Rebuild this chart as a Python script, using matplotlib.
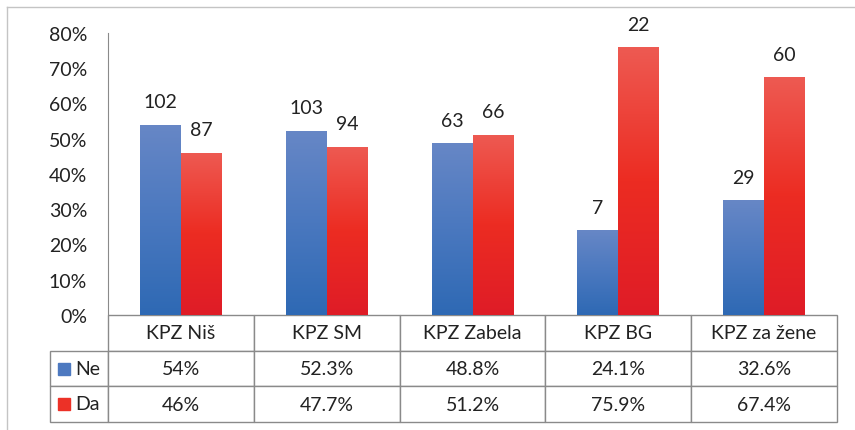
import numpy as np
import matplotlib.pyplot as plt
from matplotlib.colors import LinearSegmentedColormap
from matplotlib.lines import Line2D

plt.rcParams['font.family'] = ['Lato', 'DejaVu Sans']

categories = ['KPZ Niš', 'KPZ SM', 'KPZ Zabela', 'KPZ BG', 'KPZ za žene']
series_names = ['Ne', 'Da']
pct_ne = [54.0, 52.3, 48.8, 24.1, 32.6]
pct_da = [46.0, 47.7, 51.2, 75.9, 67.4]
cnt_ne = [102, 103, 63, 7, 29]
cnt_da = [87, 94, 66, 22, 60]
table_ne = ['54%', '52.3%', '48.8%', '24.1%', '32.6%']
table_da = ['46%', '47.7%', '51.2%', '75.9%', '67.4%']
yticks = [0, 10, 20, 30, 40, 50, 60, 70, 80]

blue_cmap = LinearSegmentedColormap.from_list('b', ['#2e69b4', '#4a78bf', '#6787c6'])
red_cmap = LinearSegmentedColormap.from_list('r', ['#df1c27', '#ec2c22', '#ee5a52'])
edge = '#8a8a8a'
fs = 14

fig = plt.figure(figsize=(8.55, 4.31), dpi=100)
ax = fig.add_axes([108 / 855, 1 - 316 / 431, 729 / 855, 282 / 431])

x = np.arange(len(categories))
w = 0.28
grad = np.linspace(0, 1, 256).reshape(-1, 1)


def gradient_bars(xpos, vals, cmap, counts):
    bars = ax.bar(xpos, vals, w, color=cmap(0.5), linewidth=0, zorder=2)
    for b, c in zip(bars, counts):
        x0, h = b.get_x(), b.get_height()
        im = ax.imshow(grad, extent=[x0, x0 + b.get_width(), 0, h], origin='lower',
                       aspect='auto', cmap=cmap, zorder=3)
        im.set_clip_path(b)
        ax.annotate(str(c), (x0 + b.get_width() / 2, h), xytext=(0, 12.5),
                    textcoords='offset points', ha='center', va='baseline',
                    fontsize=fs, color='#222222')


gradient_bars(x - w / 2, pct_ne, blue_cmap, cnt_ne)
gradient_bars(x + w / 2, pct_da, red_cmap, cnt_da)

ax.set_xlim(-0.5, len(categories) - 0.5)
ax.set_ylim(0, 80)
ax.set_yticks(yticks)
ax.set_yticklabels([f'{t}%' for t in yticks], fontsize=fs, color='#222222')
ax.tick_params(axis='y', length=0, pad=15)
ax.set_xticks([])
for s in ['top', 'right', 'bottom']:
    ax.spines[s].set_visible(False)
ax.spines['left'].set_color(edge)

# data table under the chart
first_w = 58 / 729
cell_text = [[''] + categories, [''] + table_ne, [''] + table_da]
tbl = ax.table(cellText=cell_text, cellLoc='center',
               bbox=[-first_w, -107 / 282, 1 + first_w, 107 / 282],
               colWidths=[58] + [729 / 5] * 5)
tbl.auto_set_font_size(False)
tbl.set_fontsize(fs)
for (r, c), cell in tbl.get_celld().items():
    cell.set_edgecolor(edge)
    cell.set_linewidth(1.0)
    cell.get_text().set_color('#222222')
    if r == 0 and c == 0:
        cell.visible_edges = ''

row_y = [-(369.5 - 316) / 282, -(405 - 316) / 282]
for yy, name, cmap in zip(row_y, series_names, [blue_cmap, red_cmap]):
    ax.plot(-0.0605, yy, marker='s', markersize=8.5, color=cmap(0.55),
            transform=ax.transAxes, clip_on=False)
    ax.text(-0.045, yy, name, transform=ax.transAxes, fontsize=fs,
            va='center', ha='left', color='#222222')

# outer frame
fig.add_artist(Line2D([7 / 855, 1], [1 - 8 / 431, 1 - 8 / 431],
                      transform=fig.transFigure, color='#c4c4c4', lw=1))
fig.add_artist(Line2D([7 / 855, 7 / 855], [0, 1 - 8 / 431],
                      transform=fig.transFigure, color='#c4c4c4', lw=1))

fig.savefig('out.png', dpi=100)
